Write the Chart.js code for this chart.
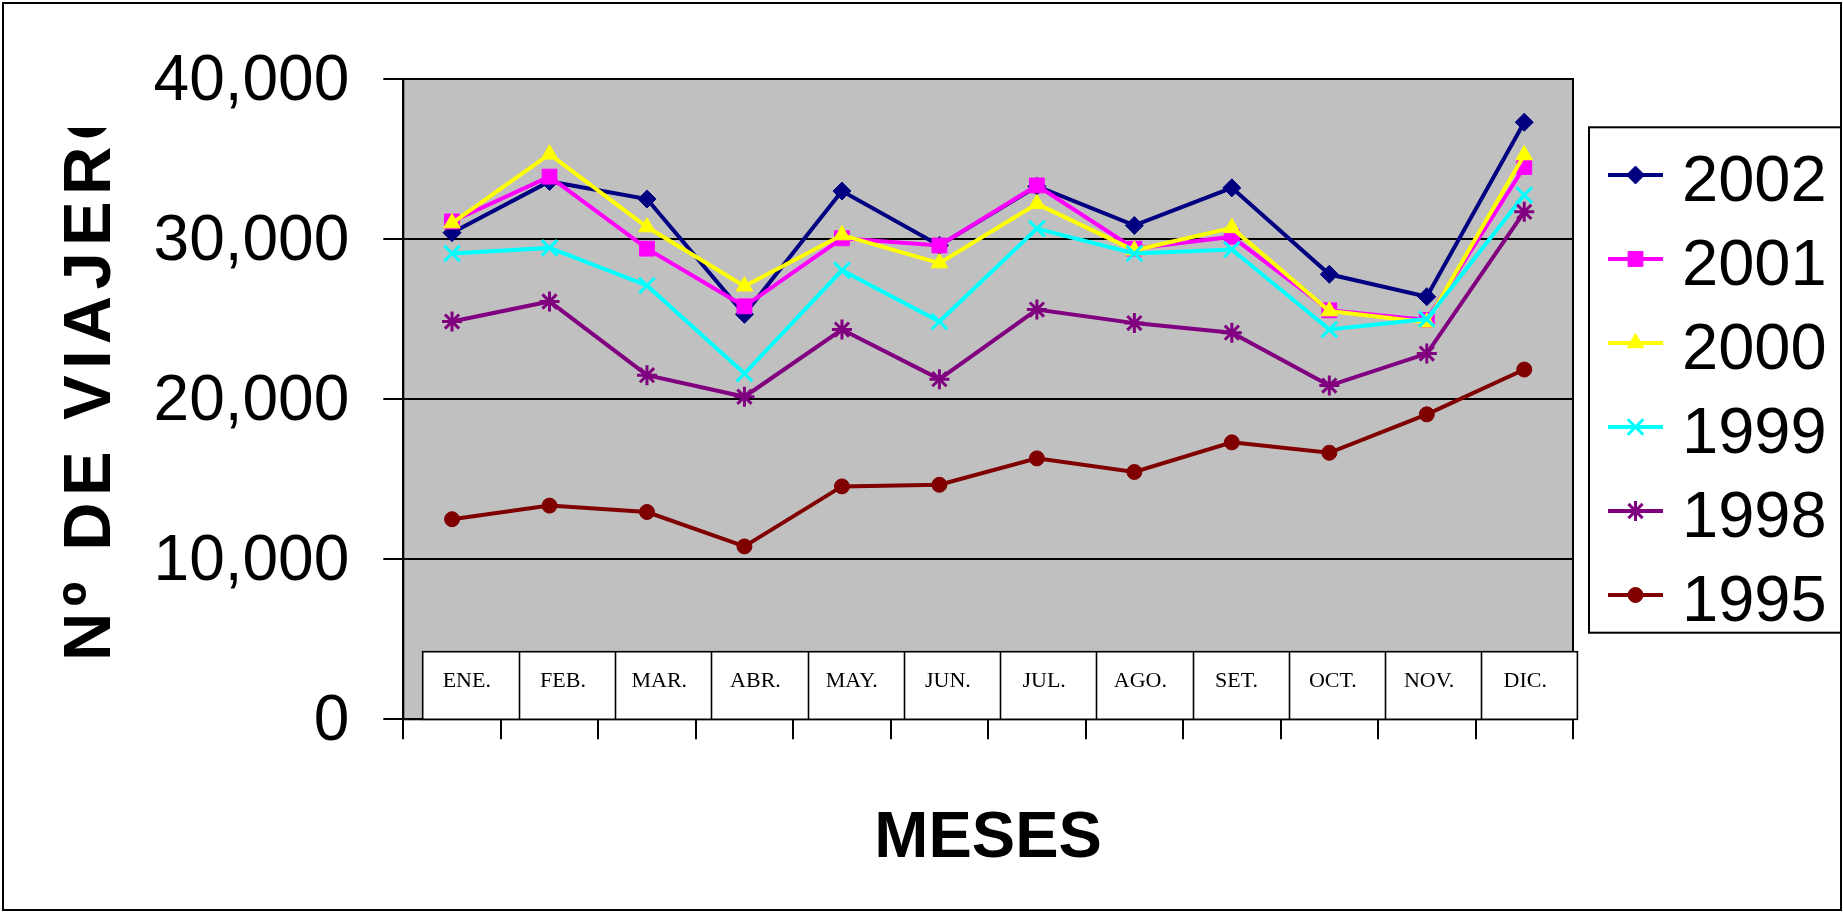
<!DOCTYPE html>
<html>
<head>
<meta charset="utf-8">
<script src="https://cdn.jsdelivr.net/npm/chart.js@4/dist/chart.umd.min.js"></script>
<style>
  html, body { margin: 0; padding: 0; background: #fff; overflow: hidden; }
  #wrap { position: relative; width: 1843px; height: 912px; }
</style>
</head>
<body>
<div id="wrap"><canvas id="c" width="1843" height="912"></canvas></div>
<script>
// Meses del año (etiquetas de la tabla de categorías)
const months = ['ENE.', 'FEB.', 'MAR.', 'ABR.', 'MAY.', 'JUN.', 'JUL.', 'AGO.', 'SET.', 'OCT.', 'NOV.', 'DIC.'];

// Nº de viajeros por mes y año
const years = ['2002', '2001', '2000', '1999', '1998', '1995'];
const v2002 = [30400, 33600, 32500, 25300, 33000, 29600, 33300, 30850, 33200, 27800, 26400, 37300];
const v2001 = [31100, 33900, 29400, 25800, 30050, 29600, 33350, 29400, 30150, 25550, 24950, 34500];
const v2000 = [31000, 35300, 30750, 27050, 30250, 28500, 32200, 29300, 30700, 25500, 24800, 35250];
const v1999 = [29100, 29450, 27100, 21600, 28050, 24850, 30650, 29100, 29350, 24350, 25000, 32750];
const v1998 = [24850, 26100, 21500, 20150, 24350, 21250, 25600, 24750, 24150, 20850, 22850, 31700];
const v1995 = [12500, 13350, 12950, 10800, 14550, 14650, 16300, 15450, 17300, 16650, 19050, 21850];

// Eje Y
const yMin = 0, yMax = 40000, yStep = 10000;

const yTitle = 'Nº DE VIAJEROS';
const xTitle = 'MESES';

const SANS = '"Liberation Sans", Arial, Helvetica, sans-serif';
const SERIF = '"Liberation Serif", "Times New Roman", serif';

const seriesValues = [v2002, v2001, v2000, v1999, v1998, v1995];
const seriesStyle = [
  { color: '#000080', pointStyle: 'rectRot',  radius: 9,    pw: 1 },
  { color: '#FF00FF', pointStyle: 'rect',     radius: 10.5, pw: 1 },
  { color: '#FFFF00', pointStyle: 'triangle', radius: 9.5,  pw: 1 },
  { color: '#00FFFF', pointStyle: 'crossRot', radius: 11,   pw: 3 },
  { color: '#800080', pointStyle: 'star',     radius: 10,   pw: 3 },
  { color: '#800000', pointStyle: 'circle',   radius: 7.5,  pw: 1 }
];

const datasets = years.map((y, i) => ({
  label: y,
  data: seriesValues[i],
  borderColor: seriesStyle[i].color,
  backgroundColor: seriesStyle[i].color,
  borderWidth: 4,
  tension: 0,
  fill: false,
  pointStyle: seriesStyle[i].pointStyle,
  pointRadius: seriesStyle[i].radius,
  pointBorderWidth: seriesStyle[i].pw,
  pointBackgroundColor: seriesStyle[i].color,
  pointBorderColor: seriesStyle[i].color,
  // later years in the list are painted over earlier ones
  order: years.length - 1 - i
}));

const framePlugin = {
  id: 'frame',
  beforeDraw(chart) {
    const { ctx, chartArea: a } = chart;
    ctx.save();
    ctx.fillStyle = '#fff';
    ctx.fillRect(0, 0, chart.width, chart.height);
    ctx.fillStyle = '#c0c0c0';
    ctx.fillRect(a.left, a.top, a.right - a.left, a.bottom - a.top);
    ctx.restore();
  },
  beforeDatasetsDraw(chart) {
    const { ctx, chartArea: a } = chart;
    const xs = chart.scales.x, ys = chart.scales.y;
    ctx.save();
    // plot frame
    ctx.strokeStyle = '#000';
    ctx.lineWidth = 2;
    ctx.strokeRect(a.left, a.top, a.right - a.left, a.bottom - a.top);

    // category table sitting on the axis
    const bottom = ys.getPixelForValue(0);
    const top = bottom - 67.6;
    const left = xs.left + 19.4;
    const right = xs.right + 4.4;
    const w = (right - left) / months.length;
    ctx.fillStyle = '#fff';
    ctx.fillRect(left, top, right - left, bottom - top);
    ctx.lineWidth = 1.6;
    ctx.strokeStyle = '#000';
    ctx.strokeRect(left, top, right - left, bottom - top);
    ctx.beginPath();
    for (let i = 1; i < months.length; i++) {
      const x = Math.round(left + w * i) + 0.5;
      ctx.moveTo(x, top);
      ctx.lineTo(x, bottom);
    }
    ctx.stroke();
    ctx.fillStyle = '#000';
    ctx.font = '22px ' + SERIF;
    ctx.textAlign = 'center';
    ctx.textBaseline = 'alphabetic';
    months.forEach((m, i) => {
      ctx.fillText(m, left + w * (i + 0.5) - 4, bottom - 32.3);
    });
    ctx.restore();
  },
  afterDraw(chart) {
    const { ctx, chartArea: a } = chart;
    ctx.save();

    // y-axis title, cut off at the top edge
    ctx.save();
    ctx.beginPath();
    ctx.rect(0, 128, 300, 700);
    ctx.clip();
    ctx.translate(110, 661);
    ctx.rotate(-Math.PI / 2);
    ctx.font = 'bold 67px ' + SANS;
    ctx.fillStyle = '#000';
    ctx.textAlign = 'left';
    ctx.textBaseline = 'alphabetic';
    if ('letterSpacing' in ctx) ctx.letterSpacing = '6.3px';
    ctx.fillText(yTitle, 0, 0);
    ctx.restore();

    // x-axis title
    ctx.font = 'bold 65px ' + SANS;
    ctx.fillStyle = '#000';
    ctx.textAlign = 'center';
    ctx.textBaseline = 'alphabetic';
    ctx.fillText(xTitle, (a.left + a.right) / 2, 857);

    // legend
    const lx = 1589, ly = 127.3, lw = 252, lh = 505.4;
    ctx.fillStyle = '#fff';
    ctx.fillRect(lx, ly, lw, lh);
    ctx.strokeStyle = '#000';
    ctx.lineWidth = 2;
    ctx.strokeRect(lx, ly, lw, lh);
    chart.data.datasets.forEach((ds, i) => {
      const y = 175 + 84 * i;
      ctx.strokeStyle = ds.borderColor;
      ctx.lineWidth = 4;
      ctx.beginPath();
      ctx.moveTo(1608, y);
      ctx.lineTo(1663, y);
      ctx.stroke();
      ctx.fillStyle = ds.pointBackgroundColor;
      ctx.strokeStyle = ds.pointBorderColor;
      ctx.lineWidth = ds.pointBorderWidth;
      Chart.helpers.drawPoint(ctx, {
        pointStyle: ds.pointStyle,
        radius: ds.pointRadius,
        rotation: 0,
        borderWidth: ds.pointBorderWidth
      }, 1635.5, y);
      ctx.fillStyle = '#000';
      ctx.font = '65px ' + SANS;
      ctx.textAlign = 'left';
      ctx.textBaseline = 'alphabetic';
      ctx.fillText(ds.label, 1682, y + 26);
    });

    // outer frame
    ctx.strokeStyle = '#000';
    ctx.lineWidth = 2;
    ctx.strokeRect(3, 3, 1838, 907);
    ctx.restore();
  }
};

new Chart(document.getElementById('c').getContext('2d'), {
  type: 'line',
  data: { labels: months, datasets },
  options: {
    responsive: false,
    animation: false,
    devicePixelRatio: 1,
    layout: { padding: { left: 0, top: 79, right: 270, bottom: 0 } },
    plugins: { legend: { display: false }, tooltip: { enabled: false } },
    scales: {
      x: {
        type: 'category',
        offset: true,
        grid: {
          display: true, drawOnChartArea: false, drawTicks: true,
          tickLength: 20, color: '#000', lineWidth: 2, offset: true
        },
        border: { display: true, color: '#000', width: 2 },
        ticks: { display: false },
        afterFit(s) { s.height = 192.7; }
      },
      y: {
        min: yMin,
        max: yMax,
        ticks: {
          stepSize: yStep,
          padding: 34,
          labelOffset: 3,
          color: '#000',
          font: { family: SANS, size: 64 },
          callback: v => v.toLocaleString('en-US')
        },
        grid: { color: '#000', lineWidth: 2, tickLength: 20, drawTicks: true },
        border: { display: true, color: '#000', width: 2 },
        afterFit(s) { s.width = 403.3; }
      }
    }
  },
  plugins: [framePlugin]
});
</script>
</body>
</html>
